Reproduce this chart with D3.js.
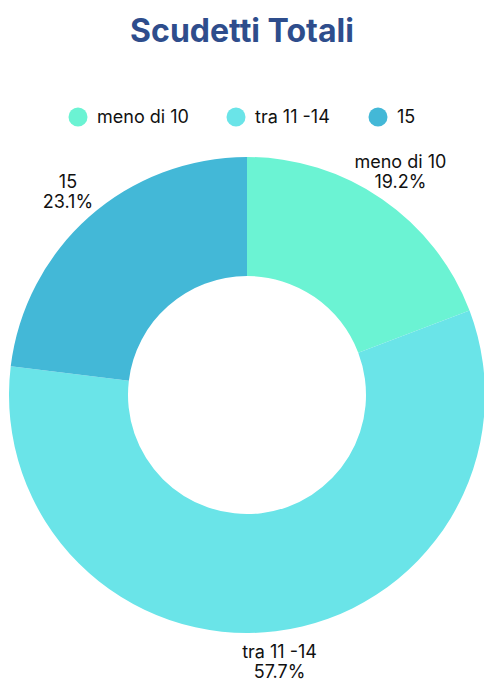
<!DOCTYPE html>
<html>
<head>
<meta charset="utf-8">
<script src="https://cdn.jsdelivr.net/npm/d3@7"></script>
<style>
  body { margin: 0; background: #fff; font-family: Inter, "Noto Sans", sans-serif; }
</style>
</head>
<body>
<div id="chart"></div>
<script>
const categories = ["meno di 10", "tra 11 -14", "15"];
const values = [5, 15, 6];
const colors = ["#6BF3D3", "#6AE4E8", "#43B8D7"];

const width = 484;
const height = 681;
const cx = 247, cy = 395;
const radius = 238;

const svg = d3.select("#chart")
  .append("svg")
  .attr("width", width)
  .attr("height", height);

svg.append("text")
  .attr("x", 242)
  .attr("y", 42)
  .attr("text-anchor", "middle")
  .attr("font-size", "32px")
  .attr("font-weight", "bold")
  .attr("fill", "#2E4D8C")
  .text("Scudetti Totali");

// legend
const legendX = [78, 236, 378];
const legend = svg.selectAll(".legend")
  .data(categories)
  .enter()
  .append("g")
  .attr("transform", (d, i) => `translate(${legendX[i]},117)`);
legend.append("circle")
  .attr("r", 9.5)
  .attr("fill", (d, i) => colors[i]);
legend.append("text")
  .attr("x", 19)
  .attr("dy", "0.35em")
  .attr("font-size", "18px")
  .attr("fill", "#111")
  .text(d => d);

const total = d3.sum(values);
const pie = d3.pie().sort(null).value(d => d);
const arc = d3.arc().innerRadius(radius * 0.5).outerRadius(radius);
const labelArc = d3.arc().innerRadius(270).outerRadius(270);

const g = svg.append("g").attr("transform", `translate(${cx},${cy})`);

g.selectAll("path")
  .data(pie(values))
  .enter()
  .append("path")
  .attr("d", arc)
  .attr("fill", (d, i) => colors[i]);

const labels = g.selectAll(".lbl")
  .data(pie(values))
  .enter()
  .append("text")
  .attr("transform", d => `translate(${labelArc.centroid(d)})`)
  .attr("text-anchor", "middle")
  .attr("font-size", "18px")
  .attr("fill", "#111");
labels.append("tspan")
  .attr("x", 0)
  .attr("y", -5)
  .text((d, i) => categories[i]);
labels.append("tspan")
  .attr("x", 0)
  .attr("y", 15)
  .text(d => (d.value / total * 100).toFixed(1) + "%");
</script>
</body>
</html>
